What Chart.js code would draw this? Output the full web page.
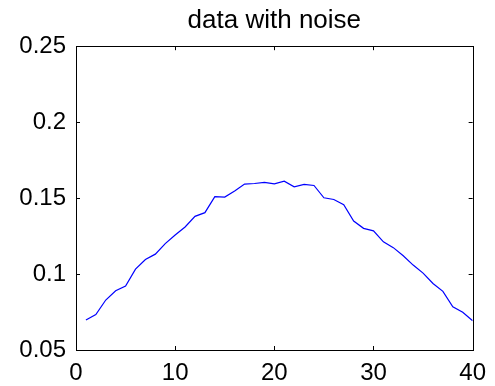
<!DOCTYPE html>
<html>
<head>
<meta charset="utf-8">
<script src="https://cdn.jsdelivr.net/npm/chart.js@4/dist/chart.umd.min.js"></script>
<style>
  html, body { margin: 0; padding: 0; background: #fff; }
  canvas { display: block; }
</style>
</head>
<body>
<canvas id="noiseChart" width="495" height="386"></canvas>
<script>
const xVals = [1, 2, 3, 4, 5, 6, 7, 8, 9, 10, 11, 12, 13, 14, 15, 16, 17, 18, 19, 20,
  21, 22, 23, 24, 25, 26, 27, 28, 29, 30, 31, 32, 33, 34, 35, 36, 37, 38, 39, 40];
const noisyVals = [0.0698, 0.0733, 0.0829, 0.0890, 0.0921, 0.1032, 0.1096, 0.1131, 0.1200, 0.1257,
  0.1310, 0.1380, 0.1404, 0.1509, 0.1507, 0.1546, 0.1592, 0.1596, 0.1603, 0.1594,
  0.1611, 0.1574, 0.1590, 0.1583, 0.1502, 0.1491, 0.1456, 0.1349, 0.1301, 0.1284,
  0.1212, 0.1174, 0.1120, 0.1059, 0.1006, 0.0938, 0.0886, 0.0785, 0.0748, 0.0693];
const xTicks = [0, 10, 20, 30, 40];
const yTicks = [0.05, 0.1, 0.15, 0.2, 0.25];
const titleText = 'data with noise';

const fontFam = '"Liberation Sans", Arial, sans-serif';

// matlab style box with inward ticks on all four sides
const boxPlugin = {
  id: 'boxTicks',
  afterDatasetsDraw(chart) {
    const ctx = chart.ctx;
    const a = chart.chartArea;
    const xs = chart.scales.x, ys = chart.scales.y;
    const len = 4;
    ctx.save();
    ctx.strokeStyle = '#000';
    ctx.lineWidth = 1;
    ctx.beginPath();
    xTicks.forEach(v => {
      const px = Math.round(xs.getPixelForValue(v)) + 0.5;
      ctx.moveTo(px, a.bottom); ctx.lineTo(px, a.bottom - len);
      ctx.moveTo(px, a.top); ctx.lineTo(px, a.top + len);
    });
    yTicks.forEach(v => {
      const py = Math.round(ys.getPixelForValue(v)) + 0.5;
      ctx.moveTo(a.left, py); ctx.lineTo(a.left + len, py);
      ctx.moveTo(a.right, py); ctx.lineTo(a.right - len, py);
    });
    ctx.stroke();
    ctx.strokeRect(Math.round(a.left) + 0.5, Math.round(a.top) + 0.5,
      Math.round(a.right - a.left), Math.round(a.bottom - a.top));
    ctx.restore();
  }
};

const ctx = document.getElementById('noiseChart').getContext('2d');
const noiseChart = new Chart(ctx, {
  type: 'line',
  data: {
    labels: xVals,
    datasets: [{
      data: noisyVals.map((v, i) => ({ x: xVals[i], y: v })),
      borderColor: '#0000ff',
      borderWidth: 1.2,
      pointRadius: 0,
      tension: 0,
      fill: false
    }]
  },
  options: {
    responsive: false,
    animation: false,
    devicePixelRatio: 1,
    layout: { padding: { left: 0, right: 20, top: 0, bottom: 0 } },
    plugins: {
      legend: { display: false },
      tooltip: { enabled: false },
      title: {
        display: true,
        fullSize: false, // centre over the plot box, not the canvas
        text: titleText,
        color: '#000',
        font: { family: fontFam, size: 26, weight: 'normal' },
        padding: { top: 5, bottom: 10 }
      }
    },
    scales: {
      x: {
        type: 'linear',
        min: 0,
        max: 40,
        grid: { display: false, drawTicks: false },
        border: { display: false },
        afterBuildTicks: s => { s.ticks = xTicks.map(v => ({ value: v })); },
        afterFit: s => { s.height = 36; },
        ticks: {
          color: '#000',
          padding: 9,
          maxRotation: 0,
          font: { family: fontFam, size: 24 },
          callback: v => String(v)
        }
      },
      y: {
        type: 'linear',
        min: 0.05,
        max: 0.25,
        grid: { display: false, drawTicks: false },
        border: { display: false },
        afterBuildTicks: s => { s.ticks = yTicks.map(v => ({ value: v })); },
        afterFit: s => { s.width = 76; },
        ticks: {
          color: '#000',
          padding: 10,
          font: { family: fontFam, size: 24 },
          callback: v => String(Math.round(v * 100) / 100)
        }
      }
    }
  },
  plugins: [boxPlugin]
});
</script>
</body>
</html>
